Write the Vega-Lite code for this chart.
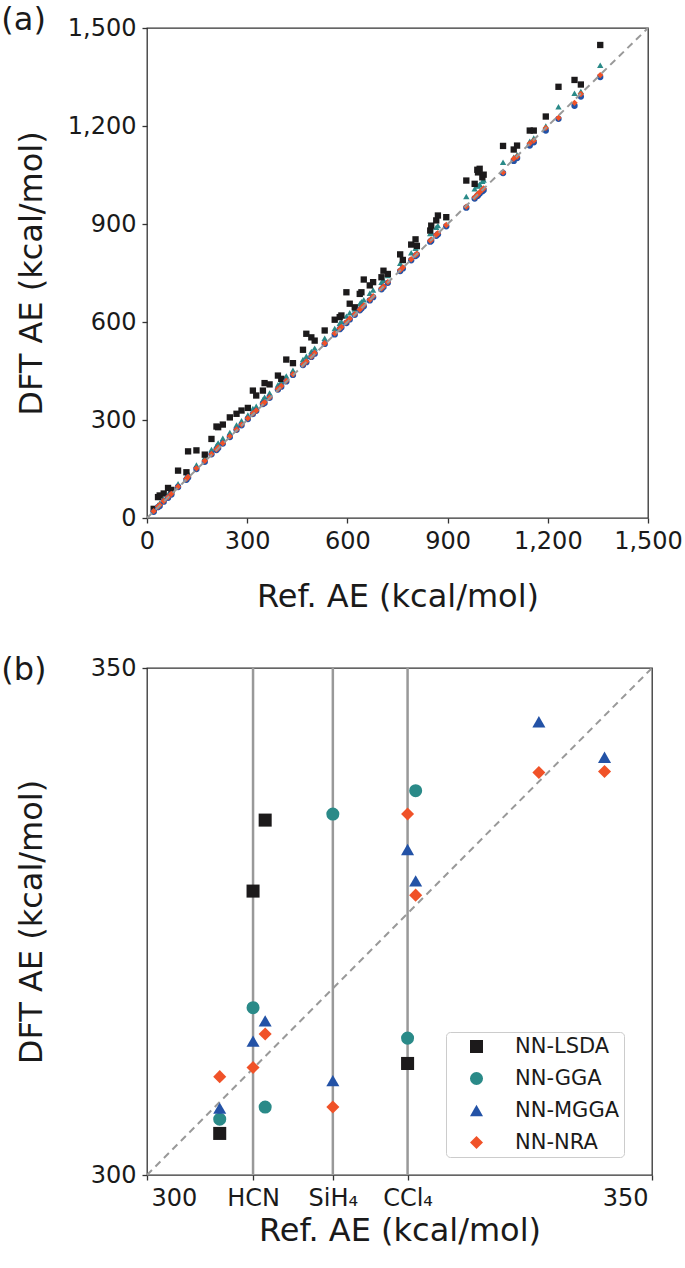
{
  "$schema": "https://vega.github.io/schema/vega-lite/v6.json",
  "padding": {"top": 3, "left": 0, "right": 0, "bottom": 0},
  "columns": 1,
  "align": "none",
  "spacing": 40,
  "config": {
    "font": "DejaVu Sans",
    "view": {"stroke": "#333333", "strokeWidth": 1.3},
    "axis": {"grid": false, "domain": false, "tickColor": "#333333", "tickWidth": 1.3, "tickSize": 5, "labelColor": "#1a1a1a", "titleColor": "#1a1a1a", "labelFont": "DejaVu Sans", "titleFont": "DejaVu Sans", "titleFontWeight": "normal", "labelFontSize": 24, "titleFontSize": 32, "labelPadding": 6, "labelOverlap": false},
    "title": {"fontWeight": "normal", "fontSize": 32, "anchor": "start", "frame": "bounds", "color": "#1a1a1a", "font": "DejaVu Sans"}
  },
  "resolve": {"scale": {"color": "independent", "shape": "independent", "size": "independent"}},
  "concat": [
    {
      "width": 501,
      "height": 490,
      "title": {"text": "(a)", "dx": -14, "offset": -21},
      "layer": [
        {
          "data": {"values": [
            {"ref": 20, "NN-LSDA": 28, "NN-GGA": 24, "NN-MGGA": 19, "NN-NRA": 21},
            {"ref": 33, "NN-LSDA": 64, "NN-GGA": 40, "NN-MGGA": 33, "NN-NRA": 35},
            {"ref": 38, "NN-LSDA": 69, "NN-GGA": 45, "NN-MGGA": 37, "NN-NRA": 40},
            {"ref": 50, "NN-LSDA": 75, "NN-GGA": 58, "NN-MGGA": 50, "NN-NRA": 52},
            {"ref": 63, "NN-LSDA": 92, "NN-GGA": 72, "NN-MGGA": 62, "NN-NRA": 64},
            {"ref": 73, "NN-LSDA": 86, "NN-GGA": 80, "NN-MGGA": 72, "NN-NRA": 74},
            {"ref": 93, "NN-LSDA": 145, "NN-GGA": 105, "NN-MGGA": 95, "NN-NRA": 96},
            {"ref": 118, "NN-LSDA": 140, "NN-GGA": 128, "NN-MGGA": 117, "NN-NRA": 120},
            {"ref": 123, "NN-LSDA": 204, "NN-GGA": 138, "NN-MGGA": 124, "NN-NRA": 126},
            {"ref": 148, "NN-LSDA": 207, "NN-GGA": 162, "NN-MGGA": 150, "NN-NRA": 152},
            {"ref": 173, "NN-LSDA": 194, "NN-GGA": 185, "NN-MGGA": 172, "NN-NRA": 175},
            {"ref": 193, "NN-LSDA": 242, "NN-GGA": 210, "NN-MGGA": 195, "NN-NRA": 196},
            {"ref": 208, "NN-LSDA": 280, "NN-GGA": 222, "NN-MGGA": 208, "NN-NRA": 210},
            {"ref": 213, "NN-LSDA": 278, "NN-GGA": 230, "NN-MGGA": 214, "NN-NRA": 216},
            {"ref": 227, "NN-LSDA": 286, "NN-GGA": 244, "NN-MGGA": 228, "NN-NRA": 229},
            {"ref": 248, "NN-LSDA": 308, "NN-GGA": 262, "NN-MGGA": 248, "NN-NRA": 250},
            {"ref": 268, "NN-LSDA": 319, "NN-GGA": 285, "NN-MGGA": 270, "NN-NRA": 271},
            {"ref": 283, "NN-LSDA": 329, "NN-GGA": 298, "NN-MGGA": 284, "NN-NRA": 286},
            {"ref": 302, "NN-LSDA": 337, "NN-GGA": 315, "NN-MGGA": 303, "NN-NRA": 305},
            {"ref": 317, "NN-LSDA": 390, "NN-GGA": 335, "NN-MGGA": 318, "NN-NRA": 320},
            {"ref": 327, "NN-LSDA": 375, "NN-GGA": 342, "NN-MGGA": 328, "NN-NRA": 329},
            {"ref": 347, "NN-LSDA": 390, "NN-GGA": 362, "NN-MGGA": 349, "NN-NRA": 350},
            {"ref": 352, "NN-LSDA": 413, "NN-GGA": 370, "NN-MGGA": 352, "NN-NRA": 354},
            {"ref": 367, "NN-LSDA": 409, "NN-GGA": 383, "NN-MGGA": 368, "NN-NRA": 369},
            {"ref": 392, "NN-LSDA": 436, "NN-GGA": 408, "NN-MGGA": 393, "NN-NRA": 395},
            {"ref": 402, "NN-LSDA": 426, "NN-GGA": 418, "NN-MGGA": 402, "NN-NRA": 404},
            {"ref": 417, "NN-LSDA": 485, "NN-GGA": 435, "NN-MGGA": 418, "NN-NRA": 420},
            {"ref": 437, "NN-LSDA": 474, "NN-GGA": 452, "NN-MGGA": 438, "NN-NRA": 440},
            {"ref": 467, "NN-LSDA": 515, "NN-GGA": 485, "NN-MGGA": 468, "NN-NRA": 470},
            {"ref": 477, "NN-LSDA": 564, "NN-GGA": 495, "NN-MGGA": 477, "NN-NRA": 479},
            {"ref": 492, "NN-LSDA": 553, "NN-GGA": 510, "NN-MGGA": 493, "NN-NRA": 494},
            {"ref": 502, "NN-LSDA": 543, "NN-GGA": 520, "NN-MGGA": 503, "NN-NRA": 505},
            {"ref": 532, "NN-LSDA": 574, "NN-GGA": 550, "NN-MGGA": 533, "NN-NRA": 535},
            {"ref": 562, "NN-LSDA": 607, "NN-GGA": 580, "NN-MGGA": 562, "NN-NRA": 565},
            {"ref": 577, "NN-LSDA": 615, "NN-GGA": 596, "NN-MGGA": 578, "NN-NRA": 580},
            {"ref": 582, "NN-LSDA": 620, "NN-GGA": 601, "NN-MGGA": 583, "NN-NRA": 585},
            {"ref": 597, "NN-LSDA": 691, "NN-GGA": 618, "NN-MGGA": 597, "NN-NRA": 600},
            {"ref": 607, "NN-LSDA": 656, "NN-GGA": 628, "NN-MGGA": 608, "NN-NRA": 610},
            {"ref": 622, "NN-LSDA": 645, "NN-GGA": 640, "NN-MGGA": 622, "NN-NRA": 624},
            {"ref": 637, "NN-LSDA": 686, "NN-GGA": 656, "NN-MGGA": 636, "NN-NRA": 638},
            {"ref": 642, "NN-LSDA": 691, "NN-GGA": 662, "NN-MGGA": 641, "NN-NRA": 644},
            {"ref": 649, "NN-LSDA": 730, "NN-GGA": 668, "NN-MGGA": 648, "NN-NRA": 651},
            {"ref": 667, "NN-LSDA": 712, "NN-GGA": 688, "NN-MGGA": 666, "NN-NRA": 668},
            {"ref": 677, "NN-LSDA": 722, "NN-GGA": 698, "NN-MGGA": 676, "NN-NRA": 679},
            {"ref": 702, "NN-LSDA": 737, "NN-GGA": 722, "NN-MGGA": 700, "NN-NRA": 703},
            {"ref": 708, "NN-LSDA": 757, "NN-GGA": 728, "NN-MGGA": 707, "NN-NRA": 709},
            {"ref": 721, "NN-LSDA": 747, "NN-GGA": 742, "NN-MGGA": 720, "NN-NRA": 722},
            {"ref": 758, "NN-LSDA": 807, "NN-GGA": 780, "NN-MGGA": 756, "NN-NRA": 759},
            {"ref": 766, "NN-LSDA": 790, "NN-GGA": 788, "NN-MGGA": 764, "NN-NRA": 767},
            {"ref": 791, "NN-LSDA": 837, "NN-GGA": 812, "NN-MGGA": 789, "NN-NRA": 792},
            {"ref": 804, "NN-LSDA": 853, "NN-GGA": 826, "NN-MGGA": 802, "NN-NRA": 805},
            {"ref": 808, "NN-LSDA": 833, "NN-GGA": 830, "NN-MGGA": 806, "NN-NRA": 809},
            {"ref": 848, "NN-LSDA": 880, "NN-GGA": 871, "NN-MGGA": 846, "NN-NRA": 849},
            {"ref": 851, "NN-LSDA": 895, "NN-GGA": 875, "NN-MGGA": 849, "NN-NRA": 852},
            {"ref": 866, "NN-LSDA": 911, "NN-GGA": 890, "NN-MGGA": 864, "NN-NRA": 867},
            {"ref": 871, "NN-LSDA": 926, "NN-GGA": 895, "NN-MGGA": 869, "NN-NRA": 872},
            {"ref": 896, "NN-LSDA": 921, "NN-GGA": 920, "NN-MGGA": 893, "NN-NRA": 897},
            {"ref": 956, "NN-LSDA": 1033, "NN-GGA": 984, "NN-MGGA": 950, "NN-NRA": 953},
            {"ref": 981, "NN-LSDA": 1023, "NN-GGA": 1008, "NN-MGGA": 978, "NN-NRA": 982},
            {"ref": 989, "NN-LSDA": 1066, "NN-GGA": 1016, "NN-MGGA": 986, "NN-NRA": 990},
            {"ref": 991, "NN-LSDA": 1058, "NN-GGA": 1018, "NN-MGGA": 988, "NN-NRA": 992},
            {"ref": 996, "NN-LSDA": 1069, "NN-GGA": 1022, "NN-MGGA": 993, "NN-NRA": 997},
            {"ref": 1004, "NN-LSDA": 1043, "NN-GGA": 1031, "NN-MGGA": 1000, "NN-NRA": 1005},
            {"ref": 1008, "NN-LSDA": 1051, "NN-GGA": 1035, "NN-MGGA": 1004, "NN-NRA": 1009},
            {"ref": 1066, "NN-LSDA": 1139, "NN-GGA": 1089, "NN-MGGA": 1056, "NN-NRA": 1058},
            {"ref": 1098, "NN-LSDA": 1128, "NN-GGA": 1104, "NN-MGGA": 1093, "NN-NRA": 1100},
            {"ref": 1108, "NN-LSDA": 1140, "NN-GGA": 1112, "NN-MGGA": 1102, "NN-NRA": 1106},
            {"ref": 1146, "NN-LSDA": 1186, "NN-GGA": 1153, "NN-MGGA": 1140, "NN-NRA": 1147},
            {"ref": 1158, "NN-LSDA": 1186, "NN-GGA": 1163, "NN-MGGA": 1150, "NN-NRA": 1155},
            {"ref": 1194, "NN-LSDA": 1229, "NN-GGA": 1200, "NN-MGGA": 1186, "NN-NRA": 1194},
            {"ref": 1232, "NN-LSDA": 1320, "NN-GGA": 1259, "NN-MGGA": 1222, "NN-NRA": 1225},
            {"ref": 1280, "NN-LSDA": 1341, "NN-GGA": 1300, "NN-MGGA": 1262, "NN-NRA": 1271},
            {"ref": 1299, "NN-LSDA": 1327, "NN-GGA": 1306, "NN-MGGA": 1290, "NN-NRA": 1298},
            {"ref": 1357, "NN-LSDA": 1448, "NN-GGA": 1386, "NN-MGGA": 1350, "NN-NRA": 1356}
          ]},
          "transform": [{"fold": ["NN-LSDA", "NN-GGA", "NN-MGGA", "NN-NRA"], "as": ["method", "ae"]}],
          "mark": {"type": "point", "filled": true, "opacity": 1},
          "encoding": {
            "x": {"field": "ref", "type": "quantitative", "title": "Ref. AE (kcal/mol)", "scale": {"domain": [0, 1500], "nice": false, "zero": false}, "axis": {"values": [0, 300, 600, 900, 1200, 1500], "format": ",d", "labelFlush": false, "titlePadding": 28}},
            "y": {"field": "ae", "type": "quantitative", "title": "DFT AE (kcal/mol)", "scale": {"domain": [0, 1500], "nice": false, "zero": false}, "axis": {"values": [0, 300, 600, 900, 1200, 1500], "format": ",d", "labelFlush": false, "titlePadding": 19}},
            "color": {"field": "method", "type": "nominal", "scale": {"domain": ["NN-LSDA", "NN-GGA", "NN-MGGA", "NN-NRA"], "range": ["#1c1a1b", "#2a8a88", "#2352a6", "#f05228"]}, "legend": null},
            "shape": {"field": "method", "type": "nominal", "scale": {"domain": ["NN-LSDA", "NN-GGA", "NN-MGGA", "NN-NRA"], "range": ["square", "triangle-up", "circle", "diamond"]}, "legend": null},
            "size": {"field": "method", "type": "nominal", "scale": {"domain": ["NN-LSDA", "NN-GGA", "NN-MGGA", "NN-NRA"], "range": [40, 40, 36, 60]}, "legend": null},
            "order": {"field": "method"}
          }
        },
        {
          "data": {"values": [{"ref": 0, "ae": 0}, {"ref": 1500, "ae": 1500}]},
          "mark": {"type": "line", "color": "#999999", "strokeDash": [7, 5], "strokeWidth": 2},
          "encoding": {
            "x": {"field": "ref", "type": "quantitative", "title": "Ref. AE (kcal/mol)", "scale": {"domain": [0, 1500], "nice": false, "zero": false}},
            "y": {"field": "ae", "type": "quantitative", "title": "DFT AE (kcal/mol)", "scale": {"domain": [0, 1500], "nice": false, "zero": false}}
          }
        }
      ]
    },
    {
      "width": 505,
      "height": 507,
      "title": {"text": "(b)", "dx": -14, "offset": -31},
      "layer": [
        {
          "data": {"values": [{"mol": "HCN", "ref": 310.5}, {"mol": "SiH4", "ref": 318.4}, {"mol": "CCl4", "ref": 325.8}]},
          "mark": {"type": "rule", "color": "#999999", "strokeWidth": 2.5},
          "encoding": {
            "x": {"field": "ref", "type": "quantitative", "title": "Ref. AE (kcal/mol)", "scale": {"domain": [300, 350], "nice": false, "zero": false}}
          }
        },
        {
          "data": {"values": [{"ref": 300, "ae": 300}, {"ref": 350, "ae": 350}]},
          "mark": {"type": "line", "color": "#999999", "strokeDash": [7, 5], "strokeWidth": 2},
          "encoding": {
            "x": {"field": "ref", "type": "quantitative", "title": "Ref. AE (kcal/mol)", "scale": {"domain": [300, 350], "nice": false, "zero": false}},
            "y": {"field": "ae", "type": "quantitative", "title": "DFT AE (kcal/mol)", "scale": {"domain": [300, 350], "nice": false, "zero": false}}
          }
        },
        {
          "data": {"values": [
            {"ref": 307.2, "method": "NN-LSDA", "ae": 304.1},
            {"ref": 307.2, "method": "NN-GGA", "ae": 305.5},
            {"ref": 307.2, "method": "NN-MGGA", "ae": 306.6},
            {"ref": 307.2, "method": "NN-NRA", "ae": 309.7},
            {"ref": 310.5, "method": "NN-LSDA", "ae": 328.0},
            {"ref": 310.5, "method": "NN-GGA", "ae": 316.5},
            {"ref": 310.5, "method": "NN-MGGA", "ae": 313.2},
            {"ref": 310.5, "method": "NN-NRA", "ae": 310.6},
            {"ref": 311.7, "method": "NN-LSDA", "ae": 335.0},
            {"ref": 311.7, "method": "NN-GGA", "ae": 306.7},
            {"ref": 311.7, "method": "NN-MGGA", "ae": 315.2},
            {"ref": 311.7, "method": "NN-NRA", "ae": 313.9},
            {"ref": 318.4, "method": "NN-GGA", "ae": 335.6},
            {"ref": 318.4, "method": "NN-MGGA", "ae": 309.3},
            {"ref": 318.4, "method": "NN-NRA", "ae": 306.7},
            {"ref": 325.8, "method": "NN-LSDA", "ae": 311.0},
            {"ref": 325.8, "method": "NN-GGA", "ae": 313.5},
            {"ref": 325.8, "method": "NN-MGGA", "ae": 332.1},
            {"ref": 325.8, "method": "NN-NRA", "ae": 335.6},
            {"ref": 326.6, "method": "NN-GGA", "ae": 337.9},
            {"ref": 326.6, "method": "NN-MGGA", "ae": 329.0},
            {"ref": 326.6, "method": "NN-NRA", "ae": 327.6},
            {"ref": 338.8, "method": "NN-MGGA", "ae": 344.7},
            {"ref": 338.8, "method": "NN-NRA", "ae": 339.7},
            {"ref": 345.3, "method": "NN-MGGA", "ae": 341.2},
            {"ref": 345.3, "method": "NN-NRA", "ae": 339.8}
          ]},
          "mark": {"type": "point", "filled": true, "opacity": 1},
          "encoding": {
            "x": {"field": "ref", "type": "quantitative", "title": "Ref. AE (kcal/mol)", "scale": {"domain": [300, 350], "nice": false, "zero": false}, "axis": {"values": [300, 310.5, 318.4, 325.8, 350], "labelExpr": "datum.value == 300 ? '300' : datum.value == 350 ? '350' : datum.value < 315 ? 'HCN' : datum.value < 322 ? 'SiH₄' : 'CCl₄'", "labelFlush": true, "labelFlushOffset": -4, "titlePadding": 5}},
            "y": {"field": "ae", "type": "quantitative", "title": "DFT AE (kcal/mol)", "scale": {"domain": [300, 350], "nice": false, "zero": false}, "axis": {"values": [300, 350], "labelFlush": false, "titlePadding": 42}},
            "size": {"field": "method", "type": "nominal", "scale": {"domain": ["NN-LSDA", "NN-GGA", "NN-MGGA", "NN-NRA"], "range": [170, 170, 200, 280]}, "legend": null},
            "color": {"field": "method", "type": "nominal", "scale": {"domain": ["NN-LSDA", "NN-GGA", "NN-MGGA", "NN-NRA"], "range": ["#1c1a1b", "#2a8a88", "#2352a6", "#f05228"]},
              "legend": {"title": null, "orient": "none", "legendX": 299, "legendY": 364, "symbolSize": 320, "labelFontSize": 21, "padding": 4, "rowPadding": 10, "labelOffset": 28, "symbolOffset": 16, "strokeColor": "#cccccc", "cornerRadius": 4, "fillColor": "white", "labelColor": "#1a1a1a", "labelFont": "DejaVu Sans"}},
            "shape": {"field": "method", "type": "nominal", "scale": {"domain": ["NN-LSDA", "NN-GGA", "NN-MGGA", "NN-NRA"], "range": ["square", "circle", "triangle-up", "diamond"]},
              "legend": {"title": null, "orient": "none", "legendX": 299, "legendY": 364, "symbolSize": 320, "labelFontSize": 21, "padding": 4, "rowPadding": 10, "labelOffset": 28, "symbolOffset": 16, "strokeColor": "#cccccc", "cornerRadius": 4, "fillColor": "white", "labelColor": "#1a1a1a", "labelFont": "DejaVu Sans"}}
          }
        }
      ]
    }
  ]
}
